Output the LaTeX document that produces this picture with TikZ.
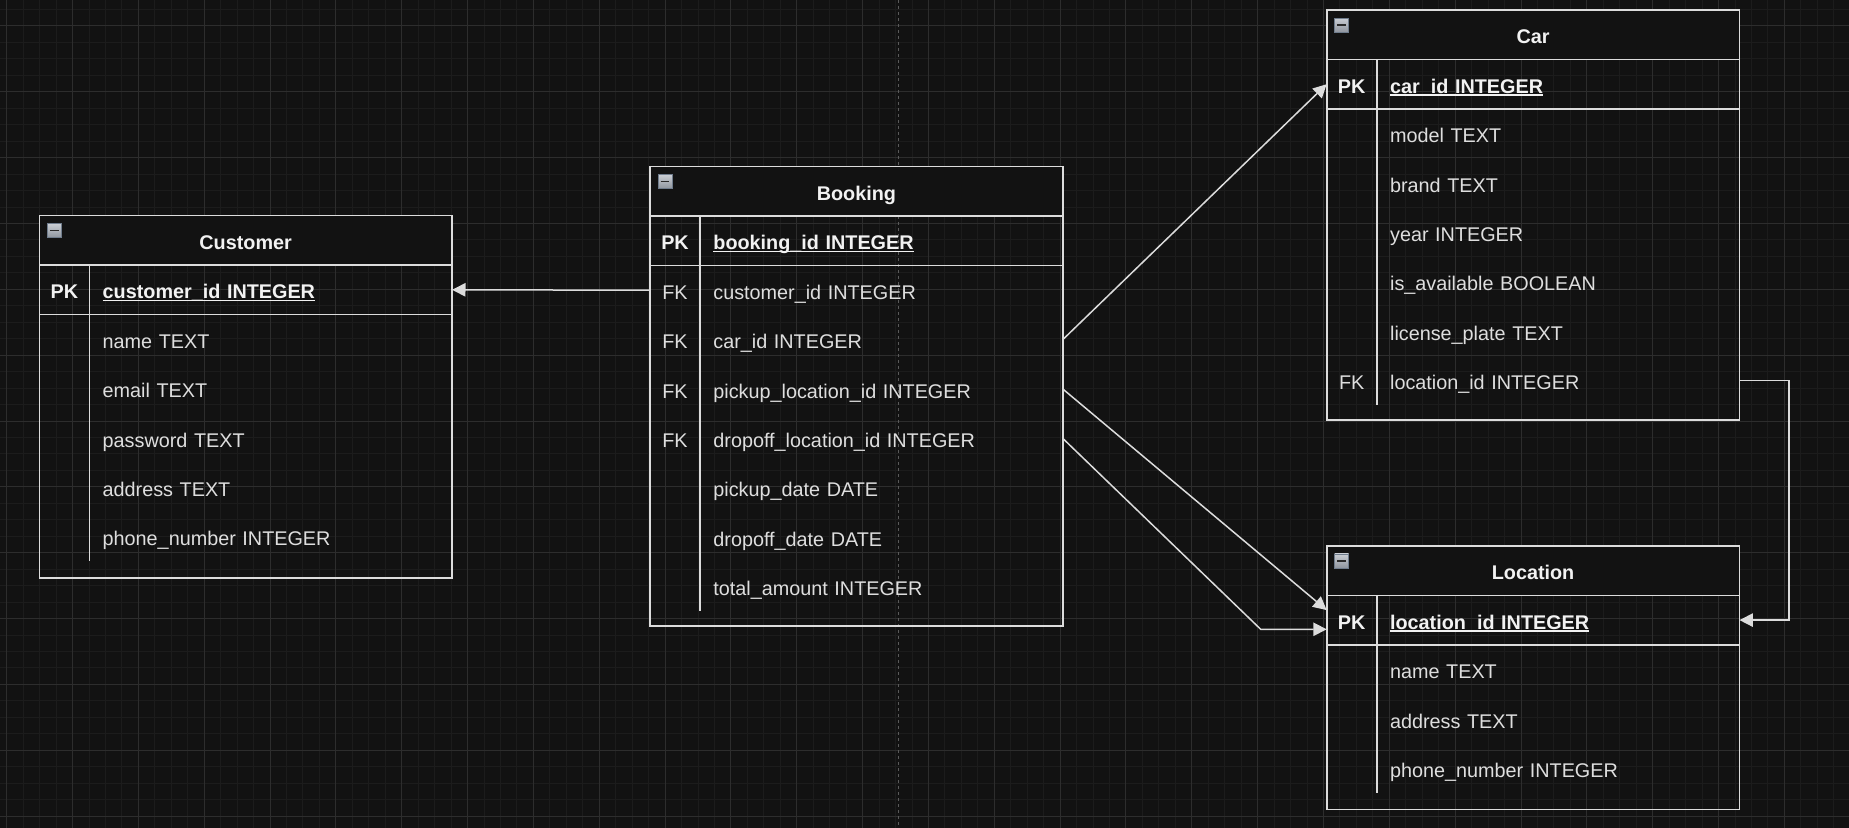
\documentclass[tikz,border=0pt]{standalone}
\usepackage{fontspec}
\setmainfont{Liberation Sans}
\usetikzlibrary{positioning,arrows.meta}

\definecolor{canvas}{HTML}{121212}
\definecolor{gridminor}{HTML}{1C1C1C}
\definecolor{gridmajor}{HTML}{2D2D2D}
\definecolor{pagebreak}{HTML}{5A5A5A}
\definecolor{tabline}{HTML}{DCDCDC}
\definecolor{boldtext}{HTML}{F2F2F2}
\definecolor{plaintext}{HTML}{DEDEDE}
\definecolor{iconedge}{HTML}{6F7C8C}
\definecolor{icontop}{HTML}{C9CDD3}
\definecolor{iconbottom}{HTML}{8F959E}
\definecolor{icondash}{HTML}{2A2A2A}

\newcommand{\erfont}{\fontsize{9.9pt}{11pt}\selectfont}
\newcommand{\pkfield}[1]{\setbox0\hbox{#1}\rlap{\rule[-1.2pt]{\wd0}{0.8pt}}\box0}

\tikzset{
  minorgrid/.style={draw=gridminor, line width=0.5pt},
  majorgrid/.style={draw=gridmajor, line width=0.5pt},
  pageline/.style={draw=pagebreak, line width=0.5pt, dash pattern=on 1.5pt off 1.5pt},
  tabhead/.style={draw=tabline, line width=0.8pt, fill=canvas, anchor=north west, outer sep=0pt, inner sep=0pt,
    minimum width=206.35pt, minimum height=24.7pt, font=\erfont\bfseries, text=boldtext, text height=9.1pt, text depth=0pt},
  tabbox/.style={draw=tabline, line width=0.8pt, outer sep=0pt, inner sep=0pt, minimum width=206.35pt},
  tabrule/.style={draw=tabline, line width=0.8pt},
  tabicon/.style={draw=iconedge, line width=0.4pt, top color=icontop, bottom color=iconbottom, minimum size=7pt,
    inner sep=0pt, outer sep=0pt,
    path picture={\draw[icondash, line width=0.65pt] ([xshift=1.3pt]path picture bounding box.west) -- ([xshift=-1.3pt]path picture bounding box.east);}},
  keycell/.style={outer sep=0pt, inner sep=0pt, minimum width=25pt, minimum height=24.7pt, font=\erfont,
    text=plaintext, text height=9.1pt, text depth=0pt},
  fieldcell/.style={outer sep=0pt, inner xsep=6.7pt, inner ysep=0pt, text width=168pt, align=left, minimum height=24.7pt,
    font=\erfont, text=plaintext, text height=9.1pt, text depth=0pt},
  keybold/.style={font=\erfont\bfseries, text=boldtext},
  fkline/.style={draw=tabline, line width=0.75pt, -{Triangle[length=6.7pt, width=6.7pt]}},
}

\begin{document}
\begin{tikzpicture}[x=0.5pt, y=-0.5pt]
        % canvas and grid
        \useasboundingbox (0,0) rectangle (1849,828);
        \fill[canvas] (0,0) rectangle (1849,828);
        \foreach \k in {0,...,111} \draw[minorgrid] ({6.7+16.46*\k},0) -- ++(0,828);
        \foreach \k in {-1,...,48} \draw[minorgrid] (0,{26+16.46*\k}) -- ++(1849,0);
        \foreach \k in {0,...,27} \draw[majorgrid] ({6.7+65.84*\k},0) -- ++(0,828);
        \foreach \k in {0,...,12} \draw[majorgrid] (0,{26+65.84*\k}) -- ++(1849,0);
        \draw[pageline] (898.3,0) -- (898.3,828);

        % customer table
        \node[tabhead] (cu) at (39.3, 215.7) {Customer};
        \node[tabicon, below right=4pt and 4pt of cu.north west] (cu-icon) {};
        \node[tabbox, minimum height=156.45pt, below right=0pt and 0pt of cu.south west] (cu-box) {};
            \node[keycell, keybold, below right=0pt and 0pt of cu.south west] (cu-pk-key) {PK};
            \node[fieldcell, keybold, right=0pt of cu-pk-key] (cu-pk) {\pkfield{customer\_id INTEGER}};
            \node[keycell, below=0pt of cu-pk-key] (cu-f1-key) {};  \node[fieldcell, right=0pt of cu-f1-key] (cu-f1) {name TEXT};
            \node[keycell, below=0pt of cu-f1-key] (cu-f2-key) {};  \node[fieldcell, right=0pt of cu-f2-key] (cu-f2) {email TEXT};
            \node[keycell, below=0pt of cu-f2-key] (cu-f3-key) {};  \node[fieldcell, right=0pt of cu-f3-key] (cu-f3) {password TEXT};
            \node[keycell, below=0pt of cu-f3-key] (cu-f4-key) {};  \node[fieldcell, right=0pt of cu-f4-key] (cu-f4) {address TEXT};
            \node[keycell, below=0pt of cu-f4-key] (cu-f5-key) {};  \node[fieldcell, right=0pt of cu-f5-key] (cu-f5) {phone\_number INTEGER};
        \draw[tabrule] (cu-pk-key.south west) -- (cu-pk.south east);
        \draw[tabrule] (cu-pk-key.north east) -- (cu-f5-key.south east);

        % booking table
        \node[tabhead] (bk) at (650, 166.7) {Booking};
        \node[tabicon, below right=4pt and 4pt of bk.north west] (bk-icon) {};
        \node[tabbox, minimum height=205.1pt, below right=0pt and 0pt of bk.south west] (bk-box) {};
            \node[keycell, keybold, below right=0pt and 0pt of bk.south west] (bk-pk-key) {PK};
            \node[fieldcell, keybold, right=0pt of bk-pk-key] (bk-pk) {\pkfield{booking\_id INTEGER}};
            \node[keycell, below=0pt of bk-pk-key] (bk-f1-key) {FK};  \node[fieldcell, right=0pt of bk-f1-key] (bk-f1) {customer\_id INTEGER};
            \node[keycell, below=0pt of bk-f1-key] (bk-f2-key) {FK};  \node[fieldcell, right=0pt of bk-f2-key] (bk-f2) {car\_id INTEGER};
            \node[keycell, below=0pt of bk-f2-key] (bk-f3-key) {FK};  \node[fieldcell, right=0pt of bk-f3-key] (bk-f3) {pickup\_location\_id INTEGER};
            \node[keycell, below=0pt of bk-f3-key] (bk-f4-key) {FK};  \node[fieldcell, right=0pt of bk-f4-key] (bk-f4) {dropoff\_location\_id INTEGER};
            \node[keycell, below=0pt of bk-f4-key] (bk-f5-key) {};    \node[fieldcell, right=0pt of bk-f5-key] (bk-f5) {pickup\_date DATE};
            \node[keycell, below=0pt of bk-f5-key] (bk-f6-key) {};    \node[fieldcell, right=0pt of bk-f6-key] (bk-f6) {dropoff\_date DATE};
            \node[keycell, below=0pt of bk-f6-key] (bk-f7-key) {};    \node[fieldcell, right=0pt of bk-f7-key] (bk-f7) {total\_amount INTEGER};
        \draw[tabrule] (bk-pk-key.south west) -- (bk-pk.south east);
        \draw[tabrule] (bk-pk-key.north east) -- (bk-f7-key.south east);

        % car table
        \node[tabhead] (ca) at (1326.7, 10.1) {Car};
        \node[tabicon, below right=4pt and 4pt of ca.north west] (ca-icon) {};
        \node[tabbox, minimum height=180.4pt, below right=0pt and 0pt of ca.south west] (ca-box) {};
            \node[keycell, keybold, below right=0pt and 0pt of ca.south west] (ca-pk-key) {PK};
            \node[fieldcell, keybold, right=0pt of ca-pk-key] (ca-pk) {\pkfield{car\_id INTEGER}};
            \node[keycell, below=0pt of ca-pk-key] (ca-f1-key) {};    \node[fieldcell, right=0pt of ca-f1-key] (ca-f1) {model TEXT};
            \node[keycell, below=0pt of ca-f1-key] (ca-f2-key) {};    \node[fieldcell, right=0pt of ca-f2-key] (ca-f2) {brand TEXT};
            \node[keycell, below=0pt of ca-f2-key] (ca-f3-key) {};    \node[fieldcell, right=0pt of ca-f3-key] (ca-f3) {year INTEGER};
            \node[keycell, below=0pt of ca-f3-key] (ca-f4-key) {};    \node[fieldcell, right=0pt of ca-f4-key] (ca-f4) {is\_available BOOLEAN};
            \node[keycell, below=0pt of ca-f4-key] (ca-f5-key) {};    \node[fieldcell, right=0pt of ca-f5-key] (ca-f5) {license\_plate TEXT};
            \node[keycell, below=0pt of ca-f5-key] (ca-f6-key) {FK};  \node[fieldcell, right=0pt of ca-f6-key] (ca-f6) {location\_id INTEGER};
        \draw[tabrule] (ca-pk-key.south west) -- (ca-pk.south east);
        \draw[tabrule] (ca-pk-key.north east) -- (ca-f6-key.south east);

        % location table
        \node[tabhead] (lo) at (1326.7, 546) {Location};
        \node[tabicon, below right=4pt and 4pt of lo.north west] (lo-icon) {};
        \node[tabbox, minimum height=107pt, below right=0pt and 0pt of lo.south west] (lo-box) {};
            \node[keycell, keybold, below right=0pt and 0pt of lo.south west] (lo-pk-key) {PK};
            \node[fieldcell, keybold, right=0pt of lo-pk-key] (lo-pk) {\pkfield{location\_id INTEGER}};
            \node[keycell, below=0pt of lo-pk-key] (lo-f1-key) {};    \node[fieldcell, right=0pt of lo-f1-key] (lo-f1) {name TEXT};
            \node[keycell, below=0pt of lo-f1-key] (lo-f2-key) {};    \node[fieldcell, right=0pt of lo-f2-key] (lo-f2) {address TEXT};
            \node[keycell, below=0pt of lo-f2-key] (lo-f3-key) {};    \node[fieldcell, right=0pt of lo-f3-key] (lo-f3) {phone\_number INTEGER};
        \draw[tabrule] (lo-pk-key.south west) -- (lo-pk.south east);
        \draw[tabrule] (lo-pk-key.north east) -- (lo-f3-key.south east);

        % foreign keys
        \draw[fkline] (bk-f1-key.west) -- (cu-pk.east);
        \draw[fkline] (bk-f2.east) -- (ca-pk-key.west);
        \draw[fkline] (bk-f3.east) -- ([yshift=5pt]lo-pk-key.west);
        \draw[fkline] (bk-f4.east) -- ([xshift=-33pt, yshift=-4.6pt]lo-pk-key.west) -- ([yshift=-4.6pt]lo-pk-key.west);
        \draw[fkline] (ca-f6.east) -- ++(49.6,0) |- (lo-pk.east);
\end{tikzpicture}
\end{document}
